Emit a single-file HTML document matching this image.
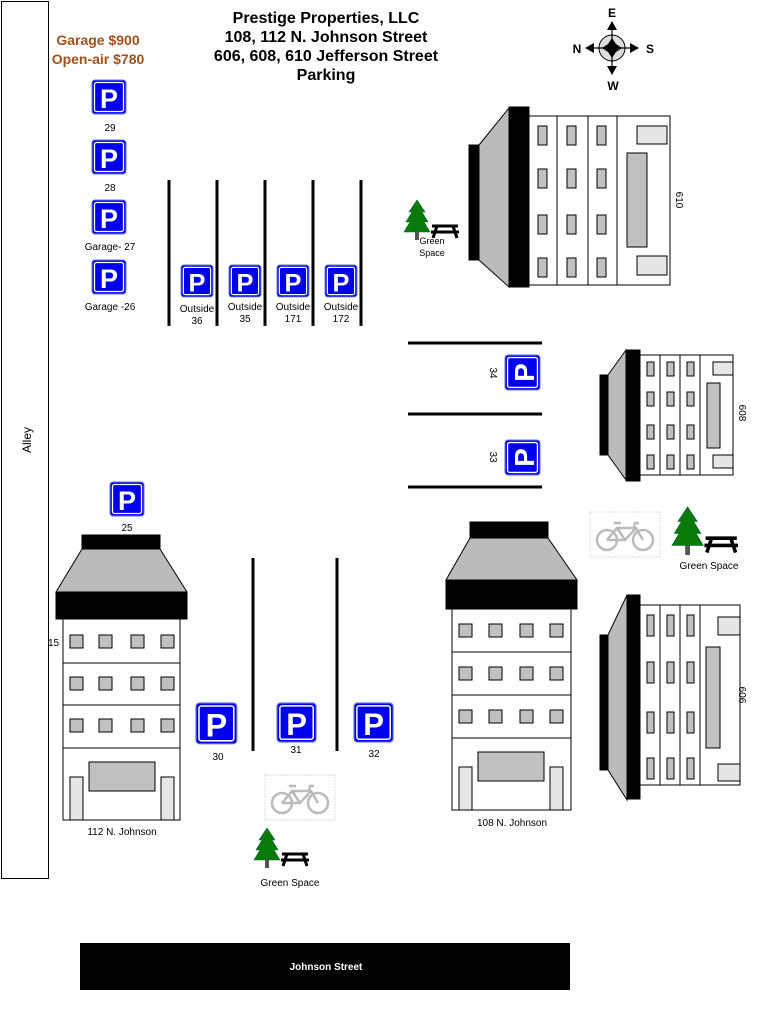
<!DOCTYPE html>
<html><head><meta charset="utf-8"><style>
html,body{margin:0;padding:0;background:#fff;}
svg{display:block;}
text{font-family:"Liberation Sans",Arial,sans-serif;}
</style></head><body>
<svg width="766" height="1016" viewBox="0 0 766 1016" xmlns="http://www.w3.org/2000/svg">
<defs>
<g id="P">
<rect x="0" y="0" width="34" height="34" rx="3" fill="#0000ee" stroke="#6677cc" stroke-width="1"/>
<rect x="2.5" y="2.5" width="29" height="29" rx="2" fill="none" stroke="#fff" stroke-width="1.3"/>
<text x="17" y="28" font-size="27" font-weight="bold" fill="#fff" text-anchor="middle">P</text>
</g>
<g id="bike">
<rect x="0" y="0" width="70" height="45" fill="#fff" stroke="#ddd" stroke-width="1" stroke-dasharray="2,1"/>
<g fill="none" stroke="#bbb" stroke-width="2.5">
<circle cx="17" cy="28" r="10"/><circle cx="53" cy="28" r="10"/>
<path d="M17 28 L27 16 L46 16 L53 28 M27 16 L35 28 L46 16 M35 28 L17 28 M24 11 L31 11 M44 16 L45 11 L49 11"/>
</g>
</g>
<g id="tree">
<polygon points="13,0 5,12 8,12 2,22 6,22 0,32 26,32 20,22 24,22 18,12 21,12" fill="#0a7a0a" stroke="#063" stroke-width="0.6"/>
<rect x="11" y="32" width="4" height="8" fill="#555"/>
<g stroke="#000" stroke-width="3" fill="none">
<path d="M28 26 L54 26 M33 26 L29 38 M49 26 L53 38 M27 32 L55 32"/>
</g>
</g>
</defs>

<rect x="1.5" y="1.5" width="47" height="877" fill="#fff" stroke="#000" stroke-width="1"/>
<text transform="translate(31,440) rotate(-90)" font-size="12" text-anchor="middle">Alley</text>

<g font-size="16" font-weight="bold" text-anchor="middle">
<text x="326" y="23">Prestige Properties, LLC</text>
<text x="326" y="42">108, 112 N. Johnson Street</text>
<text x="326" y="61">606, 608, 610 Jefferson Street</text>
<text x="326" y="80">Parking</text>
</g>
<g font-size="14" font-weight="bold" fill="#a0501a" text-anchor="middle">
<text x="98" y="45">Garage $900</text>
<text x="98" y="64">Open-air $780</text>
</g>

<g>
<circle cx="612" cy="48" r="13" fill="#ddd" stroke="#000" stroke-width="1"/>
<path d="M612 22 L612 74 M587 48 L637 48" stroke="#000" stroke-width="1.2"/>
<polygon points="612,38 616,44 622,48 616,52 612,58 608,52 602,48 608,44" fill="#000"/>
<polygon points="612,21 607,30 617,30" fill="#000"/>
<polygon points="612,75 607,66 617,66" fill="#000"/>
<polygon points="585,48 594,43 594,53" fill="#000"/>
<polygon points="639,48 630,43 630,53" fill="#000"/>
<g font-size="12" font-weight="bold" text-anchor="middle">
<text x="612" y="17">E</text><text x="613" y="90">W</text>
<text x="577" y="53">N</text><text x="650" y="53">S</text>
</g>
</g>

<use href="#P" x="92" y="80"/><text x="110" y="131" font-size="10" text-anchor="middle">29</text>
<use href="#P" x="92" y="140"/><text x="110" y="191" font-size="10" text-anchor="middle">28</text>
<use href="#P" x="92" y="200"/><text x="110" y="250" font-size="10" text-anchor="middle">Garage- 27</text>
<use href="#P" x="92" y="260"/><text x="110" y="310" font-size="10" text-anchor="middle">Garage -26</text>

<g stroke="#000" stroke-width="3">
<line x1="169" y1="180" x2="169" y2="326"/><line x1="217" y1="180" x2="217" y2="326"/>
<line x1="265" y1="180" x2="265" y2="326"/><line x1="313" y1="180" x2="313" y2="326"/>
<line x1="361" y1="180" x2="361" y2="326"/>
</g>
<g transform="translate(181,265) scale(0.94)"><use href="#P"/></g>
<g transform="translate(229,265) scale(0.94)"><use href="#P"/></g>
<g transform="translate(277,265) scale(0.94)"><use href="#P"/></g>
<g transform="translate(325,265) scale(0.94)"><use href="#P"/></g>
<g font-size="10" text-anchor="middle">
<text x="197" y="312">Outside</text><text x="197" y="324">36</text>
<text x="245" y="310">Outside</text><text x="245" y="322">35</text>
<text x="293" y="310">Outside</text><text x="293" y="322">171</text>
<text x="341" y="310">Outside</text><text x="341" y="322">172</text>
</g>

<g stroke="#000" stroke-width="3">
<line x1="408" y1="343" x2="542" y2="343"/><line x1="408" y1="414" x2="542" y2="414"/>
<line x1="408" y1="487" x2="542" y2="487"/>
</g>
<g transform="translate(505,390) rotate(-90) scale(1.03)"><use href="#P"/></g>
<g transform="translate(505,475) rotate(-90) scale(1.03)"><use href="#P"/></g>
<text transform="translate(490,373) rotate(90)" font-size="10" text-anchor="middle">34</text>
<text transform="translate(490,457) rotate(90)" font-size="10" text-anchor="middle">33</text>

<use href="#P" x="110" y="482"/><text x="127" y="531" font-size="10" text-anchor="middle">25</text>

<g stroke="#000" stroke-width="3">
<line x1="253" y1="558" x2="253" y2="751"/><line x1="337" y1="558" x2="337" y2="751"/>
</g>
<g transform="translate(196,703) scale(1.2)"><use href="#P"/></g>
<g transform="translate(277,703) scale(1.15)"><use href="#P"/></g>
<g transform="translate(354,703) scale(1.15)"><use href="#P"/></g>
<g font-size="10" text-anchor="middle">
<text x="218" y="760">30</text><text x="296" y="753">31</text><text x="374" y="757">32</text>
</g>

<g stroke="#000" stroke-width="1">
<rect x="82" y="535" width="78" height="14" fill="#000"/>
<polygon points="82,549 160,549 187,592 56,592" fill="#bbb"/>
<rect x="56" y="592" width="131" height="27" fill="#000"/>
<rect x="63" y="619" width="117" height="201" fill="#fff"/>
<line x1="63" y1="663" x2="180" y2="663"/><line x1="63" y1="705" x2="180" y2="705"/><line x1="63" y1="748" x2="180" y2="748"/>
<g fill="#c0c0c0">
<rect x="70" y="635" width="13" height="13"/><rect x="99" y="635" width="13" height="13"/><rect x="131" y="635" width="13" height="13"/><rect x="161" y="635" width="13" height="13"/>
<rect x="70" y="677" width="13" height="13"/><rect x="99" y="677" width="13" height="13"/><rect x="131" y="677" width="13" height="13"/><rect x="161" y="677" width="13" height="13"/>
<rect x="70" y="719" width="13" height="13"/><rect x="99" y="719" width="13" height="13"/><rect x="131" y="719" width="13" height="13"/><rect x="161" y="719" width="13" height="13"/>
<rect x="89" y="762" width="66" height="29"/>
</g>
<rect x="70" y="777" width="13" height="43" fill="#e6e6e6"/><rect x="161" y="777" width="13" height="43" fill="#e6e6e6"/>
</g>
<text x="48" y="646" font-size="10">15</text>
<text x="122" y="835" font-size="10" text-anchor="middle">112 N. Johnson</text>

<g stroke="#000" stroke-width="1">
<rect x="470" y="522" width="78" height="16" fill="#000"/>
<polygon points="470,538 548,538 577,580 446,580" fill="#bbb"/>
<rect x="446" y="580" width="131" height="29" fill="#000"/>
<rect x="452" y="609" width="119" height="201" fill="#fff"/>
<line x1="452" y1="652" x2="571" y2="652"/><line x1="452" y1="695" x2="571" y2="695"/><line x1="452" y1="738" x2="571" y2="738"/>
<g fill="#c0c0c0">
<rect x="459" y="624" width="13" height="13"/><rect x="489" y="624" width="13" height="13"/><rect x="520" y="624" width="13" height="13"/><rect x="550" y="624" width="13" height="13"/>
<rect x="459" y="667" width="13" height="13"/><rect x="489" y="667" width="13" height="13"/><rect x="520" y="667" width="13" height="13"/><rect x="550" y="667" width="13" height="13"/>
<rect x="459" y="710" width="13" height="13"/><rect x="489" y="710" width="13" height="13"/><rect x="520" y="710" width="13" height="13"/><rect x="550" y="710" width="13" height="13"/>
<rect x="478" y="752" width="66" height="29"/>
</g>
<rect x="459" y="767" width="13" height="43" fill="#e6e6e6"/><rect x="550" y="767" width="13" height="43" fill="#e6e6e6"/>
</g>
<text x="512" y="826" font-size="10" text-anchor="middle">108 N. Johnson</text>

<g stroke="#000" stroke-width="1">
<rect x="469" y="145" width="10" height="115" fill="#000"/>
<polygon points="479,145 509,108 509,287 479,260" fill="#bbb"/>
<rect x="509" y="107" width="20" height="180" fill="#000"/>
<rect x="529" y="116" width="141" height="169" fill="#fff"/>
<line x1="557" y1="116" x2="557" y2="285"/><line x1="588" y1="116" x2="588" y2="285"/><line x1="617" y1="116" x2="617" y2="285"/>
<g fill="#c0c0c0">
<rect x="538" y="126" width="9" height="19"/><rect x="567" y="126" width="9" height="19"/><rect x="597" y="126" width="9" height="19"/>
<rect x="538" y="169" width="9" height="19"/><rect x="567" y="169" width="9" height="19"/><rect x="597" y="169" width="9" height="19"/>
<rect x="538" y="215" width="9" height="19"/><rect x="567" y="215" width="9" height="19"/><rect x="597" y="215" width="9" height="19"/>
<rect x="538" y="258" width="9" height="19"/><rect x="567" y="258" width="9" height="19"/><rect x="597" y="258" width="9" height="19"/>
<rect x="627" y="153" width="20" height="94"/>
</g>
<rect x="637" y="126" width="30" height="18" fill="#e6e6e6"/><rect x="637" y="256" width="30" height="19" fill="#e6e6e6"/>
</g>
<text transform="translate(676,200) rotate(90)" font-size="10" text-anchor="middle">610</text>

<g stroke="#000" stroke-width="1">
<rect x="600" y="375" width="8" height="80" fill="#000"/>
<polygon points="608,375 626,350 626,480 608,455" fill="#bbb"/>
<rect x="626" y="350" width="14" height="131" fill="#000"/>
<rect x="640" y="355" width="93" height="120" fill="#fff"/>
<line x1="660" y1="355" x2="660" y2="475"/><line x1="680" y1="355" x2="680" y2="475"/><line x1="700" y1="355" x2="700" y2="475"/>
<g fill="#c0c0c0">
<rect x="647" y="362" width="7" height="14"/><rect x="667" y="362" width="7" height="14"/><rect x="687" y="362" width="7" height="14"/>
<rect x="647" y="392" width="7" height="14"/><rect x="667" y="392" width="7" height="14"/><rect x="687" y="392" width="7" height="14"/>
<rect x="647" y="425" width="7" height="14"/><rect x="667" y="425" width="7" height="14"/><rect x="687" y="425" width="7" height="14"/>
<rect x="647" y="455" width="7" height="14"/><rect x="667" y="455" width="7" height="14"/><rect x="687" y="455" width="7" height="14"/>
<rect x="707" y="383" width="13" height="65"/>
</g>
<rect x="713" y="362" width="20" height="13" fill="#e6e6e6"/><rect x="713" y="455" width="20" height="13" fill="#e6e6e6"/>
</g>
<text transform="translate(739,413) rotate(90)" font-size="10" text-anchor="middle">608</text>

<g stroke="#000" stroke-width="1">
<rect x="600" y="635" width="8" height="135" fill="#000"/>
<polygon points="608,635 627,595 627,800 608,770" fill="#bbb"/>
<rect x="627" y="595" width="13" height="204" fill="#000"/>
<rect x="640" y="605" width="100" height="180" fill="#fff"/>
<line x1="660" y1="605" x2="660" y2="785"/><line x1="680" y1="605" x2="680" y2="785"/><line x1="700" y1="605" x2="700" y2="785"/>
<g fill="#c0c0c0">
<rect x="647" y="615" width="7" height="21"/><rect x="667" y="615" width="7" height="21"/><rect x="687" y="615" width="7" height="21"/>
<rect x="647" y="662" width="7" height="21"/><rect x="667" y="662" width="7" height="21"/><rect x="687" y="662" width="7" height="21"/>
<rect x="647" y="712" width="7" height="21"/><rect x="667" y="712" width="7" height="21"/><rect x="687" y="712" width="7" height="21"/>
<rect x="647" y="758" width="7" height="21"/><rect x="667" y="758" width="7" height="21"/><rect x="687" y="758" width="7" height="21"/>
<rect x="706" y="647" width="14" height="101"/>
</g>
<rect x="718" y="617" width="22" height="18" fill="#e6e6e6"/><rect x="718" y="764" width="22" height="17" fill="#e6e6e6"/>
</g>
<text transform="translate(739,695) rotate(90)" font-size="10" text-anchor="middle">606</text>

<use href="#bike" x="265" y="775"/>
<use href="#bike" x="590" y="512"/>

<use href="#tree" x="404" y="200"/>
<text x="432" y="244" font-size="9" text-anchor="middle">Green</text>
<text x="432" y="256" font-size="9" text-anchor="middle">Space</text>
<g transform="translate(672,507) scale(1.2)"><use href="#tree"/></g>
<text x="709" y="569" font-size="10" text-anchor="middle">Green Space</text>
<use href="#tree" x="254" y="828"/>
<text x="290" y="886" font-size="10" text-anchor="middle">Green Space</text>

<rect x="80" y="943" width="490" height="47" fill="#000"/>
<text x="326" y="970" font-size="10" font-weight="bold" fill="#fff" text-anchor="middle">Johnson Street</text>
</svg>
</body></html>
